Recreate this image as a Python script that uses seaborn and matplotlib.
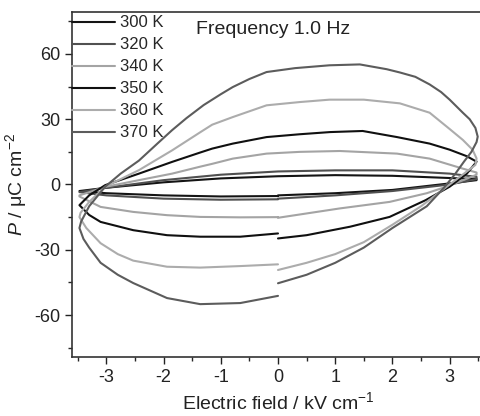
import matplotlib
matplotlib.use("Agg")
import matplotlib.pyplot as plt
import seaborn as sns
import pandas as pd
from matplotlib.ticker import MultipleLocator

# P-E loops, each traced 0 -> +Emax -> -Emax -> 0 (kV/cm, uC/cm2)
temps = ["300 K", "320 K", "340 K", "350 K", "360 K", "370 K"]
colors = ["#141414", "#505050", "#a4a4a4", "#101010", "#acacac", "#5c5c5c"]

E_300 = [0, 1, 2, 3, 3.47, 3.47, 2, 1, 0, -1, -2, -3, -3.47, -3, -2, -1, 0]
P_300 = [-5, -4, -2.5, 0.5, 2, 2.5, 4, 4.3, 3.8, 2.8, 1, -1.5, -3, -4, -5, -5.5, -5.3]

E_320 = [0, 1, 2, 3, 3.47, 3.47, 3, 2, 1, 0, -1, -2, -3, -3.47, -3, -2, -1, 0]
P_320 = [-6.5, -5, -3, 0, 2.5, 3.5, 5, 6.5, 6.5, 6, 4.5, 2, -1.5, -3.5, -5, -6.5, -7, -6.8]

E_340 = [0, 1.08, 1.95, 2.6, 3.0, 3.47, 3.47, 3.23, 2.65, 2.08, 1.08, 0.38, -0.2, -0.79,
         -1.15, -1.36, -1.85, -2.43, -3.02, -3.47, -3.47, -3.1, -2.53, -1.94, -1.36, -0.66, 0]
P_340 = [-15.3, -11, -8, -4, -0.5, 4.5, 5.5, 7.3, 11.9, 14.2, 15.4, 15, 14.2, 11.9,
         9.5, 8.2, 5, 2, -1.1, -5, -5.5, -10.3, -12.6, -14.1, -14.9, -15.1, -15]

E_350 = [0, 0.5, 1.26, 1.95, 2.58, 3.0, 3.3, 3.44, 3.47, 3.3, 3.0, 2.65, 2.08, 1.48, 0.91,
         0.38, -0.2, -0.79, -1.15, -1.36, -1.85, -2.43, -3.02, -3.3, -3.47,
         -3.3, -3.1, -2.53, -1.94, -1.36, -0.66, 0]
P_350 = [-24.8, -23.3, -19.4, -14.9, -7.2, -1, 5, 9.5, 10.5, 13, 16, 18.8, 21.8, 24.6, 24.1,
         23.1, 21.8, 18.8, 16.5, 14.7, 10.4, 5, -0.3, -5, -9.5,
         -14, -17.2, -21, -23.3, -24, -24, -22.5]

E_360 = [0, 0.5, 1.0, 1.5, 2.0, 2.5, 2.8, 3.1, 3.3, 3.45, 3.47, 3.4, 3.23, 3.0, 2.65, 2.13,
         1.5, 0.9, 0.38, -0.2, -0.79, -1.15, -1.36, -1.85, -2.43, -3.02, -3.3, -3.45,
         -3.47, -3.35, -3.1, -2.8, -2.53, -1.94, -1.36, -0.66, 0]
P_360 = [-39.3, -36, -32, -26.5, -18.5, -10, -4, 2, 6, 9, 12, 16, 20.5, 25.5, 33, 37.3,
         39, 39, 37.9, 36.4, 31, 27.5, 24, 15.7, 6.6, -1, -8, -13,
         -15, -20, -27, -32, -35, -37.8, -38.2, -37.5, -36.7]

E_370 = [0, 0.5, 1.0, 1.5, 2.0, 2.3, 2.6, 2.9, 3.1, 3.25, 3.38, 3.47, 3.49, 3.45, 3.35, 3.23,
         3.0, 2.85, 2.65, 2.4, 2.13, 1.9, 1.43, 0.9, 0.3, -0.2, -0.5, -0.79, -1.0, -1.3,
         -1.6, -1.85, -2.1, -2.43, -2.75, -3.02, -3.3, -3.44, -3.47, -3.4, -3.3, -3.1, -2.8,
         -2.53, -1.94, -1.36, -0.66, 0]
P_370 = [-45.4, -41.5, -36, -29, -20, -15, -10, -1.5, 5, 10.5, 15, 19.5, 22, 26, 30, 33,
         39, 42.5, 46, 49.5, 51.5, 53, 55.2, 54.8, 53.5, 51.7, 48.5, 44.8, 41.5, 36.5,
         30.5, 25, 19, 11, 5, -1, -10, -17, -20, -25, -29, -36, -41.5,
         -45.3, -52.2, -55, -54.5, -51.2]

loops = {
    "300 K": (E_300, P_300), "320 K": (E_320, P_320), "340 K": (E_340, P_340),
    "350 K": (E_350, P_350), "360 K": (E_360, P_360), "370 K": (E_370, P_370),
}

frames = []
for t, (e, p) in loops.items():
    frames.append(pd.DataFrame({"E": e, "P": p, "T": t}))
df = pd.concat(frames, ignore_index=True)

sns.set_style("ticks")
plt.rcParams["font.family"] = ["Liberation Sans", "DejaVu Sans"]
plt.rcParams["mathtext.fontset"] = "custom"
plt.rcParams["mathtext.rm"] = "Liberation Sans"
plt.rcParams["mathtext.it"] = "Liberation Sans:italic"
plt.rcParams["axes.unicode_minus"] = False

fig = plt.figure(figsize=(4.81, 4.16), dpi=100)
ax = fig.add_axes([72 / 481, 59 / 416, 412 / 481, 345 / 416])

sns.lineplot(data=df, x="E", y="P", hue="T", hue_order=temps, palette=colors,
             sort=False, estimator=None, linewidth=1.5, ax=ax)

ax.set_xlim(-3.6, 3.6)
ax.set_ylim(-79.3, 79.3)
ax.xaxis.set_major_locator(MultipleLocator(1))
ax.xaxis.set_minor_locator(MultipleLocator(0.5))
ax.yaxis.set_major_locator(MultipleLocator(30))
ax.yaxis.set_minor_locator(MultipleLocator(15))
ax.tick_params(which="major", direction="out", length=5, width=1, labelsize=13, colors="#222222")
ax.tick_params(which="minor", direction="out", length=3, width=1)
for s in ax.spines.values():
    s.set_linewidth(1.2)
    s.set_color("#333333")

ax.set_xlabel("Electric field / kV cm$^{-1}$", fontsize=14, color="#222222", labelpad=4)
ax.set_ylabel("$P$ / μC cm$^{-2}$", fontsize=14, color="#222222", labelpad=4)

handles, labels = ax.get_legend_handles_labels()
ax.legend(handles, labels, loc="upper left", bbox_to_anchor=(0, 0.99), frameon=False,
          fontsize=12, handlelength=2.55, handletextpad=0.3, labelspacing=0.42,
          borderaxespad=0, borderpad=0)

ax.text(0.30, 0.95, "Frequency 1.0 Hz", transform=ax.transAxes, fontsize=14,
        color="#222222", va="center", ha="left")

fig.savefig("out.png", dpi=100)
